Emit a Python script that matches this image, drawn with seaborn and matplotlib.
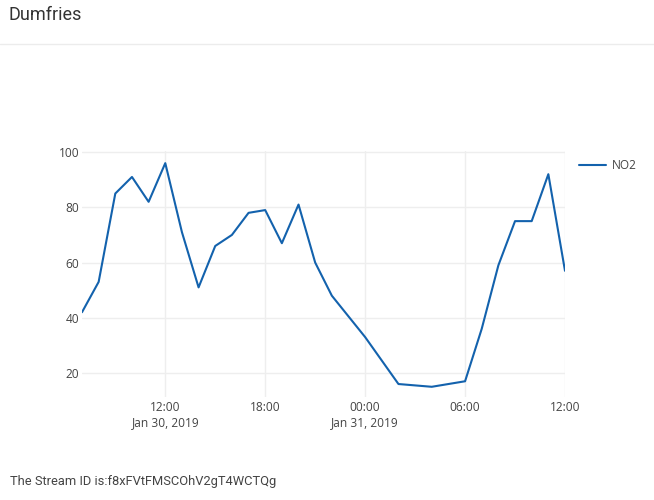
import pandas as pd
import matplotlib
matplotlib.use("Agg")
import matplotlib.pyplot as plt
import seaborn as sns

# hourly readings (visible vertices only)
times = ["2019-01-30 07:00", "2019-01-30 08:00", "2019-01-30 09:00", "2019-01-30 10:00",
         "2019-01-30 11:00", "2019-01-30 12:00", "2019-01-30 13:00", "2019-01-30 14:00",
         "2019-01-30 15:00", "2019-01-30 16:00", "2019-01-30 17:00", "2019-01-30 18:00",
         "2019-01-30 19:00", "2019-01-30 20:00", "2019-01-30 21:00", "2019-01-30 22:00",
         "2019-01-31 00:00", "2019-01-31 02:00", "2019-01-31 04:00", "2019-01-31 06:00",
         "2019-01-31 07:00", "2019-01-31 08:00", "2019-01-31 09:00", "2019-01-31 10:00",
         "2019-01-31 11:00", "2019-01-31 12:00"]
no2 = [42, 53, 85, 91, 82, 96, 71, 51, 66, 70, 78, 79, 67, 81, 60, 48,
       33, 16, 15, 17, 36, 59, 75, 75, 92, 57]

tick_times = ["2019-01-30 12:00", "2019-01-30 18:00", "2019-01-31 00:00",
              "2019-01-31 06:00", "2019-01-31 12:00"]
tick_labels = ["12:00\nJan 30, 2019", "18:00", "00:00\nJan 31, 2019", "06:00", "12:00"]
y_ticks = [20, 40, 60, 80, 100]

df = pd.DataFrame({"time": pd.to_datetime(times), "NO2": no2})

sns.set_theme(style="white")
plt.rcParams["font.family"] = ["Open Sans", "DejaVu Sans"]

W, H = 654, 500
fig = plt.figure(figsize=(W / 100, H / 100), dpi=100)
ax = fig.add_axes([82 / W, 1 - 397 / H, (565 - 82) / W, (397 - 151) / H])

line_color = "#1362ad"
sns.lineplot(data=df, x="time", y="NO2", ax=ax, color=line_color, linewidth=1.5,
             label="NO2", legend=False)

ax.set_xlim(df["time"].min(), df["time"].max())
ax.set_ylim(11.3, 100.4)
ax.set_xticks(pd.to_datetime(tick_times))
ax.set_xticklabels(tick_labels)
ax.set_yticks(y_ticks)
ax.tick_params(axis="both", length=0, labelsize=8.6, labelcolor="#444444")
ax.tick_params(axis="y", pad=2)
ax.tick_params(axis="x", pad=3)
ax.grid(True, color="#eeeeee", linewidth=1)
for s in ax.spines.values():
    s.set_visible(False)
ax.set_xlabel("")
ax.set_ylabel("")
for lbl in ax.get_xticklabels():
    lbl.set_linespacing(1.2)

# legend drawn as a short line + text
fig.lines.append(plt.Line2D([579 / W, 606 / W], [1 - 165 / H, 1 - 165 / H],
                            color=line_color, linewidth=1.5, transform=fig.transFigure))
fig.text(612 / W, 1 - 165 / H, "NO2", fontsize=8.6, color="#444444", va="center")

# header and footer
fig.text(8 / W, 1 - 15 / H, "Dumfries", fontsize=13, color="#333333", va="center",
         family=["Liberation Sans Narrow", "Roboto", "DejaVu Sans"])
fig.lines.append(plt.Line2D([0, 1], [1 - 44 / H, 1 - 44 / H], color="#ececec",
                            linewidth=1, transform=fig.transFigure))
fig.text(10 / W, 1 - 482 / H, "The Stream ID is:f8xFVtFMSCOhV2gT4WCTQg", fontsize=9.3,
         color="#444444", va="center", family=["Roboto", "DejaVu Sans"])

fig.savefig("out.png", dpi=100, facecolor="white")
